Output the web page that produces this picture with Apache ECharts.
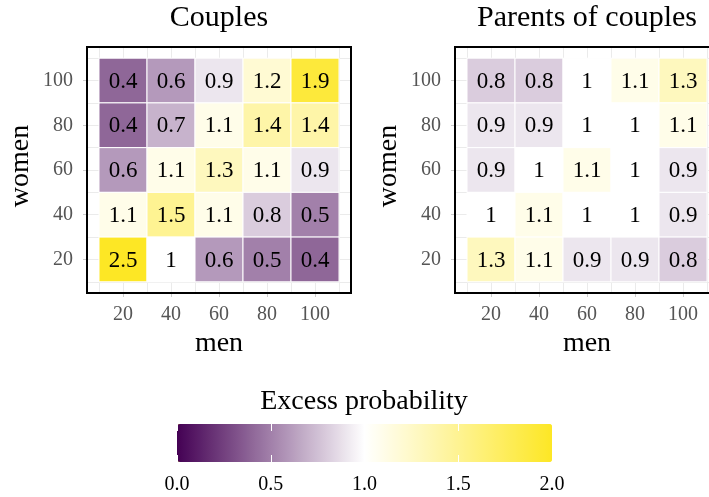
<!DOCTYPE html>
<html>
<head>
<meta charset="utf-8">
<script src="https://cdn.jsdelivr.net/npm/echarts@6/dist/echarts.min.js"></script>
<style>html,body{margin:0;padding:0;background:#fff;}#c{width:709px;height:497px;}</style>
</head>
<body>
<div id="c"></div>
<script>
// ---- data ----
const menTicks = [20, 40, 60, 80, 100];
const womenTicks = [20, 40, 60, 80, 100];
const gridTicks = [10, 20, 30, 40, 50, 60, 70, 80, 90, 100, 110];
const legendTicks = [0, 0.5, 1, 1.5, 2];
// rows: women = 100, 80, 60, 40, 20 ; columns: men = 20..100
const couplesRows = [
  [0.4, 0.6, 0.9, 1.2, 1.9],
  [0.4, 0.7, 1.1, 1.4, 1.4],
  [0.6, 1.1, 1.3, 1.1, 0.9],
  [1.1, 1.5, 1.1, 0.8, 0.5],
  [2.5, 1, 0.6, 0.5, 0.4]
];
const parentsRows = [
  [0.8, 0.8, 1, 1.1, 1.3],
  [0.9, 0.9, 1, 1, 1.1],
  [0.9, 1, 1.1, 1, 0.9],
  [1, 1.1, 1, 1, 0.9],
  [1.3, 1.1, 0.9, 0.9, 0.8]
];
const rowWomen = [100, 80, 60, 40, 20];

function toCells(rows) {
  const out = [];
  rows.forEach((r, i) => r.forEach((v, j) => out.push([menTicks[j], rowWomen[i], v])));
  return out;
}
const couplesData = toCells(couplesRows);
const parentsData = toCells(parentsRows);
const STEP = menTicks[1] - menTicks[0];

const FONT = '"Liberation Serif", serif';

function renderItem(params, api) {
  const x = api.value(0), y = api.value(1), v = api.value(2);
  const c = api.coord([x, y]);
  const s = api.size([STEP, STEP]);
  return {
    type: 'group',
    children: [
      { type: 'rect',
        shape: { x: c[0] - s[0] / 2, y: c[1] - s[1] / 2, width: s[0], height: s[1] },
        style: { fill: api.visual('color'), stroke: '#ffffff', lineWidth: 1 } },
      { type: 'text', x: c[0], y: c[1] + 1,
        style: { text: String(v), fill: '#000', font: '23px ' + FONT, align: 'center', verticalAlign: 'middle' } }
    ]
  };
}

function mainX(gi, name) {
  return {
    type: 'value', gridIndex: gi, min: 5, max: 115, position: 'bottom',
    name: name, nameLocation: 'middle', nameGap: 37,
    nameTextStyle: { fontFamily: FONT, fontSize: 28, color: '#000' },
    axisLine: { show: false },
    axisTick: { show: true, length: 4, lineStyle: { color: '#cccccc' }, customValues: menTicks },
    axisLabel: { show: true, margin: 12, color: '#555', fontFamily: FONT, fontSize: 20, customValues: menTicks },
    splitLine: { show: false }
  };
}
function mainY(gi, name) {
  return {
    type: 'value', gridIndex: gi, min: 5, max: 115, position: 'left',
    name: name, nameLocation: 'middle', nameGap: 52,
    nameTextStyle: { fontFamily: FONT, fontSize: 28, color: '#000', padding: [0, 0, 0, 8] },
    axisLine: { show: false },
    axisTick: { show: true, length: 4, lineStyle: { color: '#cccccc' }, customValues: womenTicks },
    axisLabel: { show: true, margin: 14, color: '#555', fontFamily: FONT, fontSize: 20, customValues: womenTicks },
    splitLine: { show: false }
  };
}
function gridAxis(gi) {
  return {
    type: 'value', gridIndex: gi, min: 5, max: 115,
    axisLine: { show: false },
    axisTick: { show: false, customValues: gridTicks },
    axisLabel: { show: false, customValues: gridTicks },
    splitLine: { show: true, lineStyle: { color: '#ebebeb', width: 1 } }
  };
}

const option = {
  backgroundColor: '#ffffff',
  animation: false,
  title: [
    { text: 'Couples', left: 219, top: 3, textAlign: 'center', padding: 0,
      textStyle: { fontFamily: FONT, fontSize: 30, fontWeight: 'normal', color: '#000' } },
    { text: 'Parents of couples', left: 587, top: 3, textAlign: 'center', padding: 0,
      textStyle: { fontFamily: FONT, fontSize: 30, fontWeight: 'normal', color: '#000' } },
    { text: 'Excess probability', left: 364, top: 388, textAlign: 'center', padding: 0,
      textStyle: { fontFamily: FONT, fontSize: 28, fontWeight: 'normal', color: '#000' } }
  ],
  grid: [
    { left: 87, top: 47, width: 264, height: 246, show: true, borderColor: '#000', borderWidth: 2,
      backgroundColor: 'transparent', z: 1, containLabel: false, outerBoundsMode: 'none' },
    { left: 455, top: 47, width: 264, height: 246, show: true, borderColor: '#000', borderWidth: 2,
      backgroundColor: 'transparent', z: 1, containLabel: false, outerBoundsMode: 'none' },
    { left: 177, top: 424, width: 375, height: 38, show: false, containLabel: false, outerBoundsMode: 'none' }
  ],
  xAxis: [
    mainX(0, 'men'), gridAxis(0),
    mainX(1, 'men'), gridAxis(1),
    { type: 'value', gridIndex: 2, min: 0, max: 2, interval: 0.5, position: 'bottom', z: 10,
      axisLine: { show: false },
      axisTick: { show: true, inside: true, length: 7, lineStyle: { color: '#ffffff', width: 1 } },
      axisLabel: { show: true, margin: 13, color: '#000', fontFamily: FONT, fontSize: 20,
        formatter: v => Number(v).toFixed(1) },
      splitLine: { show: false } },
    { type: 'value', gridIndex: 2, min: 0, max: 2, interval: 0.5, position: 'top', z: 10,
      axisLine: { show: false },
      axisTick: { show: true, inside: true, length: 7, lineStyle: { color: '#ffffff', width: 1 } },
      axisLabel: { show: false },
      splitLine: { show: false } }
  ],
  yAxis: [
    mainY(0, 'women'), gridAxis(0),
    mainY(1, 'women'), gridAxis(1),
    { type: 'value', gridIndex: 2, show: false, min: 0, max: 1 }
  ],
  visualMap: {
    type: 'continuous', min: 0, max: 2, orient: 'horizontal',
    left: 177, top: 424, itemWidth: 38, itemHeight: 375, padding: 0,
    calculable: false, realtime: false, hoverLink: false, text: null, showLabel: false,
    seriesIndex: [0, 1], dimension: 2,
    inRange: { color: ['#440154', '#ffffff', '#FDE725'] },
    outOfRange: { color: ['#FDE725'] }
  },
  series: [
    { type: 'custom', xAxisIndex: 0, yAxisIndex: 0, renderItem: renderItem, data: couplesData,
      encode: { x: 0, y: 1 }, z: 3 },
    { type: 'custom', xAxisIndex: 2, yAxisIndex: 2, renderItem: renderItem, data: parentsData,
      encode: { x: 0, y: 1 }, z: 3 }
  ]
};

const chart = echarts.init(document.getElementById('c'), null, { renderer: 'canvas' });
chart.setOption(option);
</script>
</body>
</html>
